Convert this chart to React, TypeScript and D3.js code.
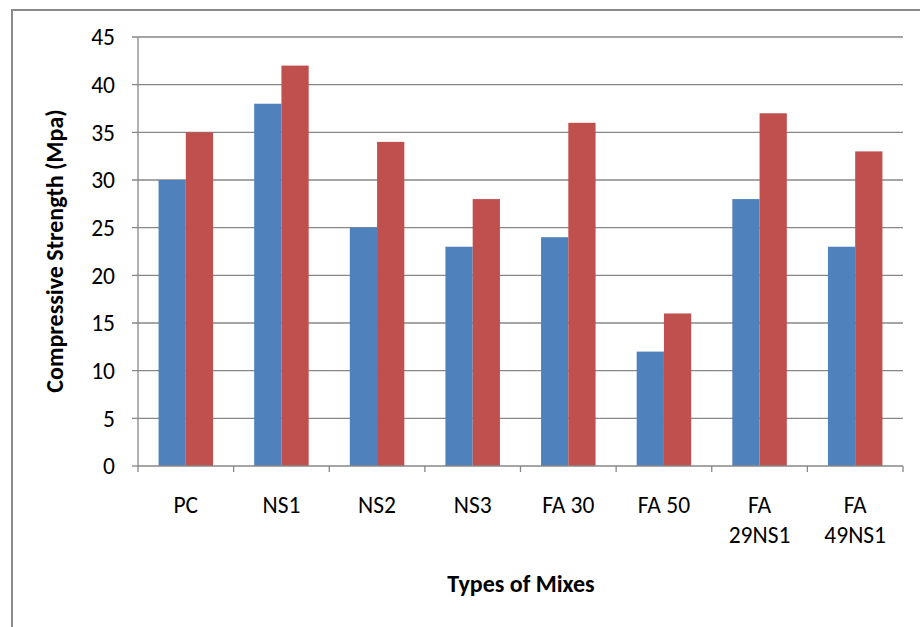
import React from "react";
import * as d3 from "d3";

const categories: string[][] = [["PC"], ["NS1"], ["NS2"], ["NS3"], ["FA 30"], ["FA 50"], ["FA", "29NS1"], ["FA", "49NS1"]];
const seriesA: number[] = [30, 38, 25, 23, 24, 12, 28, 23];
const seriesB: number[] = [35, 42, 34, 28, 36, 16, 37, 33];
const yTicks: number[] = [0, 5, 10, 15, 20, 25, 30, 35, 40, 45];

const W = 920, H = 627;
const left = 138, right = 903, top = 37, bottom = 466;
const FONT = "Carlito, Calibri, 'Open Sans', sans-serif";

export default function App() {
  const keys = categories.map((c) => c.join(" "));
  const x = d3.scaleBand<string>().domain(keys).range([left, right]).paddingInner(0.43).paddingOuter(0.215);
  const y = d3.scaleLinear().domain([0, 45]).range([bottom, top]);
  const bw = x.bandwidth() / 2;
  const step = (right - left) / categories.length;
  const grid = "#878787";
  return (
    <svg width={W} height={H} style={{ position: "absolute", left: 0, top: 0, background: "#fff" }}>
      <rect x={12} y={10} width={W + 10} height={H + 10} fill="#fff" stroke="#8a8a8a" strokeWidth={2} />
      {yTicks.map((t) => (
        <g key={t}>
          <line x1={132} x2={t === 0 ? left : right} y1={y(t)} y2={y(t)} stroke={grid} strokeWidth={1.3} />
          <text x={115} y={y(t)} dy="0.35em" textAnchor="end" fontFamily={FONT} fontSize={23.5} fill="#000">{t}</text>
        </g>
      ))}
      {keys.map((k, i) => (
        <g key={k}>
          <rect x={x(k)!} y={y(seriesA[i])} width={bw} height={bottom - y(seriesA[i])} fill="#4F81BD" />
          <rect x={x(k)! + bw} y={y(seriesB[i])} width={bw} height={bottom - y(seriesB[i])} fill="#C0504D" />
        </g>
      ))}
      <line x1={left} x2={left} y1={top} y2={bottom} stroke={grid} strokeWidth={1.3} />
      <line x1={left} x2={right} y1={bottom} y2={bottom} stroke={grid} strokeWidth={1.3} />
      {d3.range(categories.length + 1).map((i) => (
        <line key={i} x1={left + i * step} x2={left + i * step} y1={bottom} y2={bottom + 6} stroke={grid} strokeWidth={1.3} />
      ))}
      {categories.map((c, i) => (
        <text key={i} x={x(keys[i])! + x.bandwidth() / 2} y={513} textAnchor="middle" fontFamily={FONT} fontSize={23.5} fill="#000">
          {c.map((line, j) => (
            <tspan key={j} x={x(keys[i])! + x.bandwidth() / 2} dy={j === 0 ? 0 : 30}>{line}</tspan>
          ))}
        </text>
      ))}
      <text x={521} y={592} textAnchor="middle" fontFamily={FONT} fontSize={24} fontWeight="bold" fill="#000">Types of Mixes</text>
      <text transform={`translate(63,251) rotate(-90)`} textAnchor="middle" fontFamily={FONT} fontSize={24} fontWeight="bold" fill="#000">Compressive Strength (Mpa)</text>
    </svg>
  );
}
